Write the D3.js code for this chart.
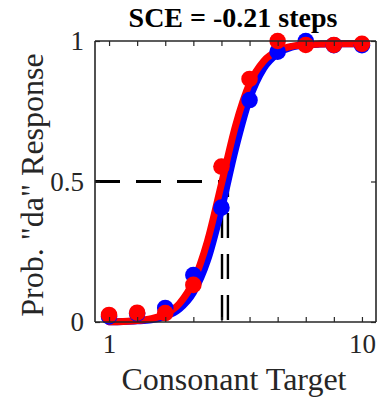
<!DOCTYPE html>
<html><head><meta charset="utf-8">
<script src="https://cdn.jsdelivr.net/npm/d3@7"></script>
<style>body{margin:0;background:#fff}svg{display:block}</style>
</head><body><svg id="c" width="382" height="402"></svg>
<script>
const title = "SCE = -0.21 steps";
const xLabel = "Consonant Target";
const yLabel = 'Prob. "da" Response';
const steps = [1,2,3,4,5,6,7,8,9,10];
const blueVals = [0.02,0.03,0.05,0.167,0.407,0.79,0.962,1.0,0.985,0.985];
const redVals  = [0.025,0.033,0.032,0.132,0.553,0.865,1.0,0.986,0.986,0.99];
const curveX = [1,1.5,2,2.5,3,3.5,4,4.5,5,5.5,6,6.5,7,7.5,8,8.5,9,9.5,10];
const blueCurve = [0.001,0.002,0.004,0.008,0.02,0.046,0.104,0.218,0.401,0.616,0.794,0.902,0.955,0.978,0.986,0.989,0.99,0.99,0.99];
const redCurve  = [0.001,0.002,0.005,0.012,0.028,0.065,0.144,0.287,0.491,0.698,0.848,0.928,0.965,0.981,0.987,0.989,0.99,0.99,0.99];
const blueMid = 5.23, redMid = 5.02;
const xTicks = [1,2,3,4,5,6,7,8,9,10];
const xTickLabels = ["1","","","","","","","","","10"];
const yTicks = [0,0.5,1];
const yTickLabels = ["0","0.5","1"];

const svg = d3.select("#c");
const L=95,R=376,T=41,B=322;
const x = d3.scaleLinear().domain([0.5,10.5]).range([L,R]);
const y = d3.scaleLinear().domain([0,1]).range([B,T]);
const ink = "#262626";
const serif = "'Liberation Serif','Times New Roman',serif";

// dashed reference lines
const dash = "25,16";
svg.append("line").attr("x1",x(0.5)).attr("x2",x(redMid)).attr("y1",y(0.5)).attr("y2",y(0.5))
  .attr("stroke","#000").attr("stroke-width",3).attr("stroke-dasharray",dash);
[redMid, blueMid].forEach(m=>{
  svg.append("line").attr("x1",x(m)).attr("x2",x(m)).attr("y1",y(0)-2).attr("y2",y(0.5))
    .attr("stroke","#000").attr("stroke-width",2.4).attr("stroke-dasharray",dash);
});

const line = d3.line().x(d=>x(d[0])).y(d=>y(d[1])).curve(d3.curveMonotoneX);
svg.append("path").datum(curveX.map((v,i)=>[v,blueCurve[i]])).attr("d",line)
  .attr("fill","none").attr("stroke","#0000ff").attr("stroke-width",7).attr("stroke-linecap","round");
svg.append("path").datum(curveX.map((v,i)=>[v,redCurve[i]])).attr("d",line)
  .attr("fill","none").attr("stroke","#ff0000").attr("stroke-width",7).attr("stroke-linecap","round");

svg.append("g").selectAll("circle").data(steps).join("circle")
  .attr("cx",d=>x(d)).attr("cy",(d,i)=>y(blueVals[i])).attr("r",8.3).attr("fill","#0000ff");
svg.append("g").selectAll("circle").data(steps).join("circle")
  .attr("cx",d=>x(d)).attr("cy",(d,i)=>y(redVals[i])).attr("r",8.3).attr("fill","#ff0000");

// axes box
const gx = svg.append("g").attr("transform",`translate(0,${B})`)
  .call(d3.axisBottom(x).tickValues(xTicks).tickSize(-5).tickPadding(12).tickFormat((d,i)=>xTickLabels[i]));
const gxt = svg.append("g").attr("transform",`translate(0,${T})`)
  .call(d3.axisTop(x).tickValues(xTicks).tickSize(-5).tickFormat(""));
const gy = svg.append("g").attr("transform",`translate(${L},0)`)
  .call(d3.axisLeft(y).tickValues(yTicks).tickSize(-5).tickPadding(11).tickFormat((d,i)=>yTickLabels[i]));
const gyr = svg.append("g").attr("transform",`translate(${R},0)`)
  .call(d3.axisRight(y).tickValues(yTicks).tickSize(-5).tickFormat(""));
[gx,gxt,gy,gyr].forEach(g=>{
  g.select(".domain").attr("stroke",ink).attr("stroke-width",1.6);
  g.selectAll(".tick line").attr("stroke",ink).attr("stroke-width",1.2);
  g.selectAll("text").attr("fill",ink).style("font-family",serif).style("font-size","27px");
});
gx.selectAll(".domain").attr("d",`M${L},0H${R}`);
gxt.selectAll(".domain").attr("d",`M${L},0H${R}`);
gy.selectAll(".domain").attr("d",`M0,${T}V${B}`);
gyr.selectAll(".domain").attr("d",`M0,${T}V${B}`);

svg.append("text").attr("x",233).attr("y",27).attr("text-anchor","middle")
  .style("font-family",serif).style("font-weight","bold").style("font-size","28px").attr("fill","#000").text(title);
svg.append("text").attr("x",234).attr("y",390).attr("text-anchor","middle")
  .style("font-family",serif).style("font-size","32px").attr("fill",ink).text(xLabel);
svg.append("text").attr("transform","translate(43,185) rotate(-90)").attr("text-anchor","middle")
  .style("font-family",serif).style("font-size","32px").attr("fill",ink).text(yLabel);
</script></body></html>
